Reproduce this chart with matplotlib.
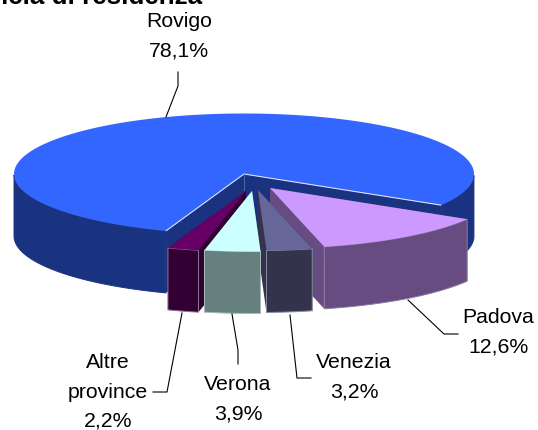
import numpy as np
import matplotlib
matplotlib.use("Agg")
import matplotlib.pyplot as plt

plt.rcParams["font.family"] = ["Liberation Sans", "DejaVu Sans"]

# ── Data ──────────────────────────────────────────────────────
TITLE = "Provincia di residenza"
names = ["Rovigo", "Padova", "Venezia", "Verona", "Altre\nprovince"]
values = [78.1, 12.6, 3.2, 3.9, 2.2]

top_colors = ["#3366FF", "#CC99FF", "#666699", "#CCFFFF", "#660066"]
side_colors = ["#1A3380", "#664C80", "#33334D", "#668080", "#330033"]
edge_colors = ["#1A3380", "#8C7AA0", "#8A8AA0", "#A8BCBC", "#8C7A90"]

label_pos = [(179, 36), (498, 332), (354, 377), (238, 399), (108, 392)]
leaders = [
    [(178, 72), (178, 86), (166, 117)],
    [(408, 300), (444, 334), (458, 334)],
    [(290, 315), (297, 378), (311, 378)],
    [(232, 314), (238, 350), (238, 364)],
    [(182, 313), (167, 392), (153, 392)],
]

# pie geometry, in pixels
CX, CY = 244, 174
RX, RY = 230, 60.5
DEPTH = 62
START = 31  # degrees, clockwise from the right, where Rovigo ends
shifts = [(0, 0), (26, 14), (14, 16), (8, 17), (2, 17)]  # how far each slice is pulled out
paint_order = {0: 1, 1: 2, 2: 3, 4: 4, 3: 5}  # back to front


def ellipse(center, deg):
    t = np.radians(deg)
    return center[0] + RX * np.cos(t), center[1] + RY * np.sin(t)


def draw_slice(ax, i, a0, a1):
    apex = (CX + shifts[i][0], CY + shifts[i][1])
    z = paint_order[i]
    angles = np.linspace(a0, a1, 200)
    x, y = ellipse(apex, angles)

    # cut faces first, the later parts paint over them
    for a in (a0, a1):
        ex, ey = ellipse(apex, a)
        ax.fill([apex[0], ex, ex, apex[0]],
                [apex[1], ey, ey + DEPTH, apex[1] + DEPTH],
                color=side_colors[i], lw=0, zorder=z)

    # only the front half of the rim can be seen
    idx = np.where(np.sin(np.radians(angles)) >= 0)[0]
    for run in np.split(idx, np.where(np.diff(idx) > 1)[0] + 1):
        rx, ry = x[run], y[run]
        ax.fill(np.r_[rx, rx[::-1]], np.r_[ry, ry[::-1] + DEPTH],
                facecolor=side_colors[i], edgecolor=edge_colors[i], lw=0.7,
                zorder=z)

    ax.fill(np.r_[apex[0], x], np.r_[apex[1], y], color=top_colors[i], lw=0,
            zorder=z)

    # thin pale line along the cut edges of the big slice
    if i == 0:
        for a in (a0, a1):
            ex, ey = ellipse(apex, a)
            ax.plot([apex[0], ex], [apex[1], ey], color="#D8E0F5", lw=0.8,
                    zorder=z, solid_capstyle="butt")
        ax.plot([apex[0], apex[0]], [apex[1], apex[1] + 16], color="#5068A8",
                lw=0.7, zorder=z)


fig = plt.figure(figsize=(5.38, 4.30), dpi=100)
ax = fig.add_axes([0, 0, 1, 1])
ax.set_xlim(0, 538)
ax.set_ylim(430, 0)
ax.axis("off")

# Rovigo runs the long way round, the others follow clockwise from its end
a = START - values[0] * 3.6
for i, v in enumerate(values):
    draw_slice(ax, i, a, a + v * 3.6)
    a += v * 3.6

for i, (name, v) in enumerate(zip(names, values)):
    pct = f"{v:.1f}%".replace(".", ",")
    ax.text(label_pos[i][0], label_pos[i][1], f"{name}\n{pct}", ha="center",
            va="center", fontsize=15.3, linespacing=1.68, color="black", zorder=10)

for pts in leaders:
    xs, ys = zip(*pts)
    ax.plot(xs, ys, color="black", lw=0.8, zorder=10)

ax.text(202, 3.5, TITLE, ha="right", va="baseline", fontsize=18.7,
        fontweight="bold", color="black", zorder=10)

fig.savefig("out.png", dpi=100)
plt.close(fig)
